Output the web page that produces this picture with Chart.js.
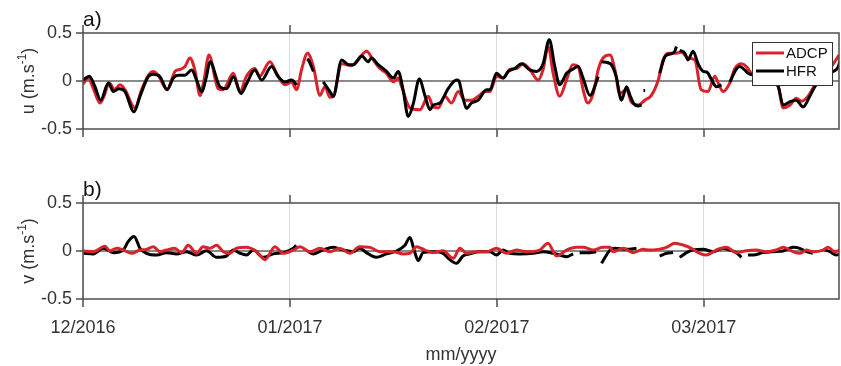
<!DOCTYPE html>
<html lang="en">
<head>
<meta charset="UTF-8">
<title>ADCP vs HFR surface currents</title>
<script src="https://cdn.jsdelivr.net/npm/chart.js"></script>
<style>
    body { margin: 0; background: #fff; }
    .panel { position: absolute; left: 0; }
    #chartU { top: 0; }
    #chartV { top: 170px; }
</style>
</head>
<body>
<canvas id="chartU" class="panel" width="841" height="170"></canvas>
<canvas id="chartV" class="panel" width="841" height="196"></canvas>
<script>
// time in days since 01/12/2016, ticks every 30 days
const monthTicks = [0, 30, 60, 90];
const monthLabels = ['12/2016', '01/2017', '02/2017', '03/2017'];
const xMax = 109.6;
const yTicks = [-0.5, 0, 0.5];
const yTickLabels = ['-0.5', '0', '0.5'];

// u component (m/s): [day, value], null = no data
const adcpU = [[0,-0.03],[0.77,0.03],[1.5,-0.08],[2.46,-0.23],[3.04,-0.16],[3.82,-0.02],[4.54,-0.09],[5.36,-0.04],[6.09,-0.09],[7.54,-0.28],[8.5,-0.09],[9.47,0.06],[10.19,0.10],[10.9,0.06],[12.2,-0.09],[13.33,0.10],[14.05,0.12],[14.78,0.15],[15.5,0.24],[16.23,0.11],[16.96,-0.15],[17.54,0.01],[18.26,0.27],[19.6,-0.08],[20.3,-0.09],[21.8,0.08],[22.75,-0.11],[23.7,0.05],[24.9,0.13],[25.6,0.05],[27.1,0.2],[28.07,0.08],[29.27,-0.04],[30.24,-0.01],[30.97,-0.09],[31.69,0.12],[32.56,0.29],[33.4,0.15],[34.35,-0.15],[35.07,-0.06],[35.8,-0.17],[36.3,-0.16],[37.5,0.18],[38.2,0.17],[38.94,0.16],[39.9,0.22],[41.1,0.31],[42.08,0.22],[43.04,0.13],[44.0,0.08],[45.0,-0.01],[45.7,0.03],[46.2,-0.06],[47.4,-0.28],[48.84,-0.3],[50.05,-0.16],[50.77,-0.27],[51.5,-0.28],[52.46,-0.16],[53.43,-0.23],[54.4,-0.11],[55.36,-0.2],[56.3,-0.2],[57.3,-0.16],[58.26,-0.11],[59.0,-0.11],[59.95,0.05],[60.9,0.03],[61.9,0.12],[62.85,0.13],[63.8,0.18],[64.78,0.12],[66.0,0.01],[66.7,0.12],[67.44,0.36],[68.16,0.08],[69.1,-0.16],[70.1,0.01],[71.0,0.17],[71.8,0.15],[72.5,-0.09],[73.2,-0.23],[73.96,-0.13],[74.7,0.12],[75.4,0.24],[76.4,0.27],[77.1,0.12],[77.8,-0.13],[78.8,-0.09],[79.5,-0.22],[80.5,-0.25],[81.45,-0.2],[82.4,-0.15],[83.4,0.01],[84.1,0.22],[84.8,0.29],[85.8,0.29],[86.76,0.3],[87.7,0.24],[88.7,0.22],[89.6,-0.09],[90.6,-0.11],[91.6,0.05],[92.08,-0.02],[92.8,-0.11],[93.77,-0.02],[94.5,0.13],[95.45,0.18],[96.18,0.15],[96.9,0.08],[97.8,0.06],[98.8,0.02],[99.8,0.0],[100.8,-0.06],[101.5,-0.28],[102.5,-0.25],[103.4,-0.18],[104.15,-0.21],[105.1,-0.16],[106.1,-0.04],[107.5,0.08],[108.5,0.15],[109.6,0.27]];
const hfrU = [[0,0.01],[0.92,0.05],[1.74,-0.06],[2.56,-0.2],[3.67,-0.02],[4.4,-0.11],[5.2,-0.08],[6.09,-0.11],[7.39,-0.32],[8.26,-0.16],[9.47,0.045],[10.19,0.07],[11.16,0.045],[12.2,-0.09],[13.09,0.03],[13.8,0.06],[14.78,0.06],[15.75,0.115],[16.47,0.01],[17.2,-0.11],[17.9,0.045],[18.4,0.2],[19.86,-0.06],[20.82,-0.08],[21.8,0.045],[22.9,-0.13],[23.7,-0.03],[24.9,0.115],[25.9,0.01],[27.34,0.15],[28.3,0.045],[29.27,-0.01],[30.24,0.01],[30.97,-0.04],[31.5,null],[32.5,0.23],[32.66,0.22],[33.4,0.1],[33.9,null],[34.83,-0.01],[35.8,-0.11],[36.28,-0.16],[37.5,0.22],[38.5,0.17],[39.2,0.17],[40.4,0.26],[41.35,0.2],[41.8,0.24],[42.8,0.17],[44.0,0.1],[45.0,0.03],[45.7,0.1],[46.4,-0.09],[47.15,-0.37],[47.9,-0.23],[48.75,0.02],[49.6,-0.16],[50.3,-0.3],[50.77,-0.25],[51.74,-0.23],[52.94,-0.08],[54.15,0.01],[54.5,0.0],[55.0,-0.15],[55.6,-0.285],[56.3,-0.23],[57.3,-0.2],[58.5,-0.09],[59.0,-0.09],[59.95,0.08],[60.9,0.03],[61.65,0.1],[62.6,0.13],[63.57,0.18],[64.78,0.115],[65.75,0.1],[66.7,0.18],[67.6,0.43],[68.4,0.15],[69.1,-0.04],[70.1,0.08],[70.8,0.115],[71.79,0.15],[72.5,0.03],[73.5,-0.15],[74.7,0.045],[74.95,null],[75.17,0.2],[76.1,0.19],[76.6,0.17],[77.3,0.045],[78.07,-0.2],[78.8,-0.06],[79.3,-0.15],[79.8,-0.23],[80.5,-0.26],[80.97,-0.25],[81.1,null],[81.25,-0.1],[81.5,-0.1],[81.6,null],[83.6,0.08],[84.35,0.25],[85.07,0.28],[85.8,0.31],[86.03,0.36],[86.2,null],[86.5,0.32],[87.25,0.29],[87.7,0.22],[88.45,0.31],[89.17,0.18],[89.9,0.1],[90.5,0.09],[91.0,0.03],[91.85,-0.06],[92.56,-0.04],[92.9,null],[93.77,-0.01],[94.7,0.12],[95.2,0.15],[95.94,0.115],[96.4,0.08],[97.5,0.06],[98.5,0.05],[99.5,0.02],[100.8,-0.06],[101.5,-0.25],[102.5,-0.215],[103.4,-0.2],[104.4,-0.27],[105.36,-0.16],[106.1,-0.06],[107.5,0.05],[108.8,0.1],[109.5,0.15],[109.85,0.25]];

// v component (m/s)
const adcpV = [[0.05,0],[1.5,-0.007],[3.19,0.05],[3.9,0],[4.9,0.028],[5.84,0.01],[7.05,-0.024],[8.26,0.01],[9.2,0.017],[10.2,0.045],[11.16,-0.007],[12.1,0.01],[13.3,0.028],[14.3,-0.017],[15.26,0.06],[16.47,-0.024],[17.4,0.045],[18.4,0.028],[19.37,0.06],[20.34,-0.007],[21.3,-0.024],[22.26,0.028],[23.7,0.038],[25.17,-0.007],[26.4,-0.09],[27.82,0.045],[29.0,-0.024],[30.5,0.01],[31.45,0.045],[32.9,-0.007],[34.35,0.028],[35.8,-0.007],[37.2,0.028],[38.7,-0.024],[40.1,0.045],[41.6,0.038],[43.04,-0.007],[45.0,-0.007],[46.4,-0.03],[47.4,-0.024],[48.35,0.045],[49.57,0.01],[50.77,-0.017],[52.2,0.003],[53.67,-0.076],[54.64,0.028],[55.6,-0.024],[57.05,-0.007],[58.5,-0.007],[59.95,0.028],[61.4,-0.024],[62.85,0.01],[64.3,-0.007],[66.2,0.01],[67.4,0.08],[68.65,-0.052],[70.1,0.01],[71.55,0.038],[72.5,0.038],[73.96,0.01],[75.4,0.038],[76.4,0.038],[76.86,-0.007],[78.3,0.028],[79.76,-0.017],[81.2,0.017],[82.1,0.01],[83.4,0.017],[84.6,0.038],[85.8,0.08],[87.0,0.062],[88.2,0.028],[89.4,-0.024],[90.4,-0.042],[91.8,0.01],[93.3,0.038],[94.7,-0.017],[96.18,0.003],[97.6,0.01],[99.08,-0.007],[100.5,0.01],[101.5,0.038],[102.95,-0.007],[103.9,-0.024],[104.88,0.01],[105.8,-0.007],[107.3,0.01],[108.0,0.038],[109.0,-0.007],[109.9,0.017]];
const hfrV = [[0.05,-0.024],[1.5,-0.03],[2.95,0.028],[4.4,-0.017],[5.84,0.01],[6.57,0.1],[7.4,0.15],[8.26,0.028],[9.2,-0.024],[10.7,-0.042],[12.1,-0.017],[13.57,-0.03],[15.0,-0.007],[16.47,-0.042],[17.9,0.003],[19.37,-0.066],[20.8,-0.052],[21.8,0.01],[22.75,-0.024],[23.7,-0.042],[24.7,0.01],[26.1,-0.066],[27.6,-0.03],[29.0,-0.017],[30.5,0.028],[30.9,0.06],[31.3,null],[32.5,0.0],[33.4,-0.03],[34.8,0.01],[36.3,0.038],[37.7,0.01],[39.2,-0.007],[40.1,0.028],[41.1,-0.017],[42.5,-0.066],[44.0,-0.03],[45.45,0],[46.67,0.06],[47.4,0.14],[48.0,0.01],[48.6,-0.1],[49.3,-0.017],[50.77,-0.007],[52.2,-0.024],[52.95,-0.076],[54.15,-0.128],[55.1,-0.052],[56.1,-0.03],[57.5,-0.007],[58.99,-0.007],[59.95,-0.042],[60.9,0.01],[61.88,-0.024],[63.3,-0.03],[65.27,-0.024],[66.7,-0.007],[68.17,-0.024],[69.6,-0.052],[70.1,-0.06],[71.06,-0.03],[71.4,null],[72.0,-0.017],[73.5,-0.017],[74.4,-0.007],[74.8,null],[75.17,-0.128],[75.9,-0.042],[76.4,0.01],[77.1,0.028],[78.8,0.017],[80.24,0.028],[80.8,null],[83.6,-0.052],[84.6,-0.024],[85.55,-0.017],[86.0,null],[86.5,-0.066],[87.5,-0.017],[88.45,0.01],[89.9,0.017],[91.35,-0.007],[92.8,0.028],[93.77,0.01],[94.7,-0.017],[95.46,-0.066],[95.9,null],[96.4,-0.042],[97.15,-0.042],[98.6,-0.017],[100.0,-0.007],[101.5,0],[102.95,0.038],[103.9,0.028],[104.88,-0.007],[105.8,-0.024],[106.5,null],[107.3,0.017],[108.3,-0.007],[109.2,-0.042],[109.9,-0.024]];

const RED = '#d8232a';
const FONT = '"Liberation Sans", Arial, sans-serif';
const TEXT = '#333';

function toXY(pairs) {
    return pairs.map(p => ({ x: p[0], y: p[1] }));
}

// box, outward ticks, panel letter, y label with superscript
const framePlugin = {
    id: 'frame',
    afterDraw(chart, args, opts) {
        const { ctx, chartArea: a } = chart;
        const x = chart.scales.x, y = chart.scales.y;
        ctx.save();
        ctx.strokeStyle = '#4d4d4d';
        ctx.lineWidth = 1.5;
        ctx.strokeRect(a.left, a.top, a.right - a.left, a.bottom - a.top);
        ctx.beginPath();
        monthTicks.forEach(v => {
            const px = Math.round(x.getPixelForValue(v));
            ctx.moveTo(px, a.top - 8); ctx.lineTo(px, a.top);
            ctx.moveTo(px, a.bottom); ctx.lineTo(px, a.bottom + 8);
        });
        yTicks.forEach(v => {
            const py = Math.round(y.getPixelForValue(v));
            ctx.moveTo(a.left - 7, py); ctx.lineTo(a.left, py);
        });
        ctx.stroke();

        ctx.fillStyle = '#111';
        ctx.font = '21px ' + FONT;
        ctx.textAlign = 'left';
        ctx.textBaseline = 'alphabetic';
        ctx.fillText(opts.letter, a.left, a.top - 7);

        // rotated y label "q (m.s^-1)"
        const main = opts.quantity + ' (m.s', sup = '-1', tail = ')';
        ctx.fillStyle = TEXT;
        ctx.font = '18px ' + FONT;
        const w1 = ctx.measureText(main).width, w3 = ctx.measureText(tail).width;
        ctx.font = '12px ' + FONT;
        const w2 = ctx.measureText(sup).width;
        const total = w1 + w2 + w3;
        ctx.translate(34, (a.top + a.bottom) / 2);
        ctx.rotate(-Math.PI / 2);
        let cx = -total / 2;
        ctx.font = '18px ' + FONT;
        ctx.fillText(main, cx, 0); cx += w1;
        ctx.font = '12px ' + FONT;
        ctx.fillText(sup, cx, -8); cx += w2;
        ctx.font = '18px ' + FONT;
        ctx.fillText(tail, cx, 0);
        ctx.restore();
    }
};

// legend box inside the top panel
const boxLegend = {
    id: 'boxLegend',
    afterDatasetsDraw(chart, args, opts) {
        if (!opts.show) return;
        const { ctx, chartArea: a } = chart;
        const left = a.right - 87, top = a.top + 9, w = 80, h = 43;
        ctx.save();
        ctx.fillStyle = '#fff';
        ctx.fillRect(left, top, w, h);
        ctx.strokeStyle = '#333';
        ctx.lineWidth = 1;
        ctx.strokeRect(left + 0.5, top + 0.5, w, h);
        ctx.font = '15px ' + FONT;
        ctx.textBaseline = 'middle';
        opts.items.forEach((it, i) => {
            const ly = top + 11 + i * 18;
            ctx.strokeStyle = it.color;
            ctx.lineWidth = 3;
            ctx.beginPath(); ctx.moveTo(left + 4, ly); ctx.lineTo(left + 32, ly); ctx.stroke();
            ctx.fillStyle = '#111';
            ctx.fillText(it.label, left + 34, ly + 1);
        });
        ctx.restore();
    }
};

function makeOptions(panel) {
    return {
        responsive: false,
        animation: false,
        devicePixelRatio: 1,
        layout: { padding: { left: 0, right: 2, top: 33, bottom: 0 } },
        elements: {
            point: { radius: 0 },
            line: { borderWidth: 3, cubicInterpolationMode: 'monotone' }
        },
        plugins: {
            legend: { display: false },
            tooltip: { enabled: false },
            frame: { letter: panel.letter, quantity: panel.quantity },
            boxLegend: { show: panel.legend, items: [{ label: 'ADCP', color: RED }, { label: 'HFR', color: '#000' }] }
        },
        scales: {
            x: {
                type: 'linear', min: 0, max: xMax,
                afterBuildTicks: s => { s.ticks = monthTicks.map(v => ({ value: v })); },
                afterFit: s => { s.height = panel.bottomSpace; },
                grid: { color: '#dcdcdc', lineWidth: 1, drawTicks: false },
                border: { display: false },
                ticks: {
                    display: panel.dates, padding: 18, color: TEXT, maxRotation: 0, autoSkip: false,
                    font: { family: FONT, size: 18 },
                    callback: v => monthLabels[monthTicks.indexOf(v)]
                },
                title: {
                    display: panel.dates, text: 'mm/yyyy', color: TEXT,
                    font: { family: FONT, size: 18 }, padding: { top: 0, bottom: 0 }
                }
            },
            y: {
                min: -0.5, max: 0.5,
                afterBuildTicks: s => { s.ticks = yTicks.map(v => ({ value: v })); },
                afterFit: s => { s.width = 83; },
                grid: {
                    color: c => c.tick && c.tick.value === 0 ? '#8a8a8a' : 'rgba(0,0,0,0)',
                    lineWidth: c => c.tick && c.tick.value === 0 ? 2 : 0,
                    drawTicks: false
                },
                border: { display: false },
                ticks: {
                    padding: 11, color: TEXT, font: { family: FONT, size: 18 },
                    callback: v => yTickLabels[yTicks.indexOf(v)]
                }
            }
        }
    };
}

new Chart(document.getElementById('chartU'), {
    type: 'line',
    data: {
        datasets: [
            { label: 'HFR', data: toXY(hfrU), borderColor: '#000', order: 0 },
            { label: 'ADCP', data: toXY(adcpU), borderColor: RED, order: 1 }
        ]
    },
    options: makeOptions({ letter: 'a)', quantity: 'u', legend: true, dates: false, bottomSpace: 41 }),
    plugins: [framePlugin, boxLegend]
});

new Chart(document.getElementById('chartV'), {
    type: 'line',
    data: {
        datasets: [
            { label: 'ADCP', data: toXY(adcpV), borderColor: RED, order: 0 },
            { label: 'HFR', data: toXY(hfrV), borderColor: '#000', order: 1 }
        ]
    },
    options: makeOptions({ letter: 'b)', quantity: 'v', legend: false, dates: true, bottomSpace: 67 }),
    plugins: [framePlugin, boxLegend]
});
</script>
</body>
</html>
